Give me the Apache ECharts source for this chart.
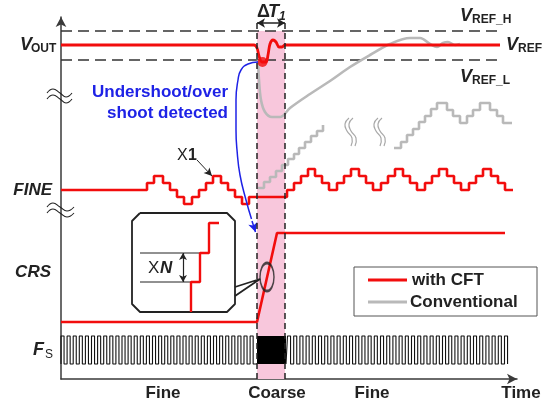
<!DOCTYPE html>
<html>
<head>
<meta charset="utf-8">
<script src="https://cdn.jsdelivr.net/npm/echarts@6/dist/echarts.min.js"></script>
<style>
  html, body { margin: 0; padding: 0; background: #fff; }
  #chart { width: 542px; height: 406px; }
</style>
</head>
<body>
<div id="chart"></div>
<script>
// Diagram units: time runs 0..456 along x, signal level 0..362 along y.
const TIME_MAX = 456;
const LEVEL_MAX = 362;

// Regulation window around V_REF
const vrefHighLevel = 348;
const vrefLowLevel = 319;
const vrefSpanEnd = 436;

// Coarse-tuning window (ΔT1)
const coarseStart = 196;
const coarseEnd = 224;

// V_OUT with CFT: quick dip and recovery inside the coarse window
const voutTime  = [0, 193, 196, 198, 201, 205, 207, 209, 212, 215, 218, 221, 224, 226, 439];
const voutLevel = [334, 334, 331, 323, 317, 317, 324, 335, 339, 337, 332, 332, 334, 334, 334];
const detectTime = 201.5;
const detectLevel = 317;

// V_OUT, conventional: deep undershoot and slow recovery
const convTime  = [197, 198, 200, 204, 211, 219, 229, 249, 269, 289, 309, 329, 349, 359, 369, 376, 382, 387, 394, 399];
const convLevel = [319, 299, 279, 267, 262, 262, 271, 285, 298, 312, 324, 335, 341, 341, 335, 332, 336, 337, 334, 335];

// FINE code, with CFT (level changes at each time)
const fineTime  = [0, 86, 93, 102, 109, 116, 123, 131, 138, 145, 152, 160, 167, 174, 181, 188,
                   226, 233, 240, 247, 254, 261, 268, 276, 283, 290, 298, 305, 312, 320, 327, 334,
                   342, 349, 356, 364, 371, 378, 386, 393, 400, 408, 415, 422, 430, 437, 444, 452];
const fineLevel = [189, 196, 203, 196, 189, 182, 175, 182, 189, 196, 203, 196, 189, 182, 175, 182,
                   189, 196, 203, 210, 203, 196, 189, 196, 203, 210, 203, 196, 189, 196, 203, 210,
                   203, 196, 189, 196, 203, 210, 203, 196, 189, 196, 203, 210, 203, 196, 189, 189];

// FINE code, conventional: long ramp (two visible segments around a time break)
const convRampTimeA  = [197, 203, 209, 215, 221, 227, 233, 238, 244, 250, 256, 262];
const convRampLevelA = [191, 197, 202, 208, 214, 220, 225, 231, 237, 243, 248, 254];
const convRampTimeB  = [333, 340, 346, 352, 358, 364, 370, 376, 386, 392, 399, 406, 412, 419, 429, 436, 442, 451];
const convRampLevelB = [231, 237, 244, 250, 257, 263, 270, 276, 269, 263, 256, 263, 269, 276, 269, 263, 256, 256];

// CRS code: low, ramps during coarse window, then high
const crsTime  = [0, 196, 216, 444];
const crsLevel = [57, 57, 146, 146];

// Sampling clock F_S: rising edges, pulse width, and levels
const clockRiseFine1 = [0, 6.1, 12.2, 18.3, 24.4, 30.5, 36.6, 42.7, 48.8, 54.9, 61, 67.1, 73.2, 79.3, 85.4, 91.5,
                        97.6, 103.7, 109.8, 115.9, 122, 128.1, 134.2, 140.3, 146.4, 152.5, 158.6, 164.7, 170.8, 176.9, 183, 189.1];
const clockRiseFine2 = [226.5, 232.7, 238.9, 245.1, 251.3, 257.5, 263.7, 269.9, 276.1, 282.3, 288.5, 294.7, 300.9, 307.1,
                        313.3, 319.5, 325.7, 331.9, 338.1, 344.3, 350.5, 356.7, 362.9, 369.1, 375.3, 381.5, 387.7, 393.9,
                        400.1, 406.3, 412.5, 418.7, 424.9, 431.1, 437.3, 443.5];
const clockPulseWidth = 3.05;
const clockLow = 15;
const clockHigh = 43;

// Zoomed view of the CRS ramp (inset)
const insetFrameTime  = [79, 166, 174, 174, 166, 79, 71, 71, 79];
const insetFrameLevel = [166, 166, 158, 75, 67, 67, 75, 158, 166];
const insetStairTime  = [130, 130, 139, 139, 148, 148, 158];
const insetStairLevel = [67, 97, 97, 126, 126, 156, 156];
const insetGuideStart = 79;
const insetGuideUpperEnd = 139, insetGuideUpperLevel = 126;
const insetGuideLowerEnd = 130, insetGuideLowerLevel = 97;
const insetArrowTime = 122;
const calloutTime  = [174, 199, 174];
const calloutLevel = [92, 100, 83];
const ellipseTime = 206, ellipseLevel = 102;

// Detection path: from the undershoot to the coarse-mode trigger
const detectPathTime  = [197, 187, 180, 177, 175, 175, 176, 179, 185, 190.5];
const detectPathLevel = [317, 315, 309, 299, 279, 249, 229, 204, 179, 160];
const detectTip = [[191, 158], [194.5, 147]];

// Pointer arrows
const x1Pointer = [[136, 219], [151, 203]];
const deltaLevel = 356;

const zip = (xs, ys) => xs.map((x, i) => [x, ys[i]]);
function clockWave(rises, from, to) {
  const pts = [[from, clockLow]];
  rises.forEach(r => {
    pts.push([r, clockLow], [r, clockHigh], [r + clockPulseWidth, clockHigh], [r + clockPulseWidth, clockLow]);
  });
  pts.push([to, clockLow]);
  return pts;
}

const RED = '#f20d0d';
const GRAY = '#b9b9b9';
const INK = '#222';
const BLUE = '#1e22e6';
const FONT = '"Liberation Sans", Arial, sans-serif';

const noSym = { symbol: 'none', silent: true, animation: false };
function lineSeries(data, color, width, extra) {
  return Object.assign({ type: 'line', data, ...noSym, lineStyle: { color, width }, z: 3 }, extra || {});
}
function arrowSeries(coords, symbols, color, width, size, extra) {
  return {
    type: 'line', data: [], ...noSym, z: 6,
    markLine: Object.assign({
      silent: true, animation: false, symbol: symbols, symbolSize: size,
      label: { show: false },
      lineStyle: { color, width, type: 'solid' },
      data: [[{ coord: coords[0] }, { coord: coords[1] }]]
    }, extra || {})
  };
}

const series = [
  // coarse window shading
  { type: 'line', data: [[coarseStart, 0]], ...noSym, lineStyle: { width: 0 }, z: 1,
    markArea: { silent: true, animation: false, itemStyle: { color: '#f8c7dc' },
      data: [[{ coord: [coarseStart, 0] }, { coord: [coarseEnd, vrefHighLevel] }]] } },
  // regulation window
  lineSeries([[0, vrefHighLevel], [vrefSpanEnd, vrefHighLevel]], '#333', 1.3, { lineStyle: { color: '#333', width: 1.3, type: [11, 6] } }),
  lineSeries([[0, vrefLowLevel], [vrefSpanEnd, vrefLowLevel]], '#333', 1.3, { lineStyle: { color: '#333', width: 1.3, type: [11, 6] } }),
  // conventional traces
  lineSeries(zip(convTime, convLevel), GRAY, 2.6, { smooth: 0.35 }),
  lineSeries(zip(convRampTimeA, convRampLevelA), GRAY, 2.6, { step: 'end' }),
  lineSeries(zip(convRampTimeB, convRampLevelB), GRAY, 2.6, { step: 'end' }),
  // CFT traces
  lineSeries(zip(voutTime, voutLevel), RED, 2.8, { smooth: 0.35, z: 4 }),
  { type: 'scatter', data: [[detectTime, detectLevel]], symbol: 'circle', symbolSize: 10, silent: true, animation: false,
    itemStyle: { color: RED }, z: 4 },
  lineSeries(zip(fineTime, fineLevel), RED, 2.6, { step: 'end', z: 4 }),
  lineSeries(zip(crsTime, crsLevel), RED, 2.6, { z: 4 }),
  // sampling clock
  lineSeries(clockWave(clockRiseFine1, 0, coarseStart), '#111', 1.1),
  lineSeries(clockWave(clockRiseFine2, coarseEnd + 1, clockRiseFine2[clockRiseFine2.length - 1] + clockPulseWidth), '#111', 1.1),
  { type: 'line', data: [[coarseStart, clockLow]], ...noSym, lineStyle: { width: 0 }, z: 2,
    markArea: { silent: true, animation: false, itemStyle: { color: '#000' },
      data: [[{ coord: [coarseStart, clockLow] }, { coord: [coarseEnd + 1, clockHigh] }]] } },
  // coarse window boundaries
  lineSeries([[coarseStart, 0], [coarseStart, deltaLevel]], INK, 1.5, { lineStyle: { color: INK, width: 1.5, type: [6, 4] }, z: 5 }),
  lineSeries([[coarseEnd, 0], [coarseEnd, deltaLevel]], INK, 1.5, { lineStyle: { color: INK, width: 1.5, type: [6, 4] }, z: 5 }),
  // inset
  lineSeries(zip(insetFrameTime, insetFrameLevel), INK, 1.8, { z: 5 }),
  lineSeries([[insetGuideStart, insetGuideUpperLevel], [insetGuideUpperEnd, insetGuideUpperLevel]], INK, 1, { z: 5 }),
  lineSeries([[insetGuideStart, insetGuideLowerLevel], [insetGuideLowerEnd, insetGuideLowerLevel]], INK, 1, { z: 5 }),
  lineSeries(zip(insetStairTime, insetStairLevel), RED, 2.4, { z: 6 }),
  lineSeries(zip(calloutTime, calloutLevel), INK, 1.8, { z: 5 }),
  { type: 'scatter', data: [[ellipseTime, ellipseLevel]], symbol: 'circle', symbolSize: [14, 28], silent: true, animation: false,
    itemStyle: { color: 'rgba(0,0,0,0)', borderColor: INK, borderWidth: 2 }, z: 6 },
  // detection path
  lineSeries(zip(detectPathTime, detectPathLevel), BLUE, 1.5, { smooth: 0.5, z: 6 }),
  arrowSeries(detectTip, ['none', 'arrow'], BLUE, 1.5, [7, 9]),
  // arrows
  arrowSeries([[coarseStart, deltaLevel], [coarseEnd, deltaLevel]], ['arrow', 'arrow'], INK, 1.5, [7, 8]),
  arrowSeries([[insetArrowTime, insetGuideLowerLevel], [insetArrowTime, insetGuideUpperLevel]], ['arrow', 'arrow'], INK, 1.2, [6, 7]),
  arrowSeries(x1Pointer, ['none', 'arrow'], INK, 1, [6, 8])
];

function txt(x, y, text, font, opts) {
  return Object.assign({
    type: 'text', x, y, z: 10, silent: true,
    style: Object.assign({ text, font, fill: INK, textAlign: 'left', textVerticalAlign: 'middle', align: 'left', verticalAlign: 'middle' }, opts || {})
  });
}
const bi = s => `italic bold ${s}px ${FONT}`;
const b = s => `bold ${s}px ${FONT}`;
const r = s => `${s}px ${FONT}`;

function squiggle(points, color, width) {
  return { type: 'polyline', z: 8, silent: true, shape: { points, smooth: 0.5 }, style: { stroke: color, lineWidth: width, fill: null } };
}

const graphic = [
  // signal names
  txt(20, 45, 'V', bi(18)), txt(31, 49, 'OUT', b(12)),
  txt(52, 190, 'FINE', bi(17), { textAlign: 'right', align: 'right' }),
  txt(51, 272, 'CRS', bi(17), { textAlign: 'right', align: 'right' }),
  txt(33, 350, 'F', bi(18)), txt(45, 355, 'S', r(12)),
  // reference levels
  txt(460, 16, 'V', bi(18)), txt(472, 20, 'REF_H', b(12)),
  txt(506, 45, 'V', bi(18)), txt(518, 49, 'REF', b(12)),
  txt(460, 77, 'V', bi(18)), txt(472, 81, 'REF_L', b(12)),
  // ΔT1
  txt(257, 12, 'Δ', b(18)), txt(268, 12, 'T', bi(18)), txt(279, 17, '1', bi(12)),
  // annotations
  txt(228, 92, 'Undershoot/over', b(17), { fill: BLUE, textAlign: 'right', align: 'right' }),
  txt(228, 113, 'shoot detected', b(17), { fill: BLUE, textAlign: 'right', align: 'right' }),
  txt(177, 156, 'X', r(16)), txt(188, 156, '1', b(16)),
  txt(148, 268, 'X', r(17)), txt(160, 268, 'N', bi(17)),
  // phases along time
  txt(163, 393, 'Fine', b(17), { textAlign: 'center', align: 'center' }),
  txt(277, 393, 'Coarse', b(17), { textAlign: 'center', align: 'center' }),
  txt(372, 393, 'Fine', b(17), { textAlign: 'center', align: 'center' }),
  txt(521, 393, 'Time', b(17), { textAlign: 'center', align: 'center' }),
  // axis breaks
  squiggle([[47, 93], [53, 89], [60, 93], [66, 97], [72, 93]], INK, 1.1),
  squiggle([[47, 99], [53, 95], [60, 99], [66, 103], [72, 99]], INK, 1.1),
  squiggle([[47, 207], [53, 203], [60, 207], [67, 211], [74, 207]], INK, 1.1),
  squiggle([[47, 213], [53, 209], [60, 213], [67, 217], [74, 213]], INK, 1.1),
  // time breaks on the conventional ramp
  squiggle([[349, 118], [345, 124], [347, 131], [352, 138], [351, 146]], '#a8a8a8', 1.2),
  squiggle([[353, 118], [349, 124], [351, 131], [356, 138], [355, 146]], '#a8a8a8', 1.2),
  squiggle([[378, 118], [374, 124], [376, 131], [381, 138], [380, 146]], '#a8a8a8', 1.2),
  squiggle([[382, 118], [378, 124], [380, 131], [385, 138], [384, 146]], '#a8a8a8', 1.2),
  // legend
  { type: 'rect', z: 9, silent: true, shape: { x: 354, y: 267, width: 183, height: 49 }, style: { fill: '#fff', stroke: '#555', lineWidth: 1 } },
  { type: 'line', z: 10, silent: true, shape: { x1: 368, y1: 280, x2: 407, y2: 280 }, style: { stroke: RED, lineWidth: 3 } },
  { type: 'line', z: 10, silent: true, shape: { x1: 368, y1: 302, x2: 407, y2: 302 }, style: { stroke: GRAY, lineWidth: 3 } },
  txt(412, 280, 'with CFT', b(17)),
  txt(410, 302, 'Conventional', b(17))
];

const axisCommon = {
  type: 'value',
  axisTick: { show: false },
  axisLabel: { show: false },
  splitLine: { show: false },
  axisLine: { show: true, symbol: ['none', 'arrow'], symbolSize: [8, 10], lineStyle: { color: '#3a3a3a', width: 1.5 } }
};

const chart = echarts.init(document.getElementById('chart'), null, { renderer: 'canvas' });
chart.setOption({
  animation: false,
  backgroundColor: '#fff',
  grid: { left: 61, right: 25, top: 17, bottom: 27 },
  xAxis: Object.assign({ min: 0, max: TIME_MAX }, axisCommon),
  yAxis: Object.assign({ min: 0, max: LEVEL_MAX }, axisCommon),
  series,
  graphic
});
</script>
</body>
</html>
